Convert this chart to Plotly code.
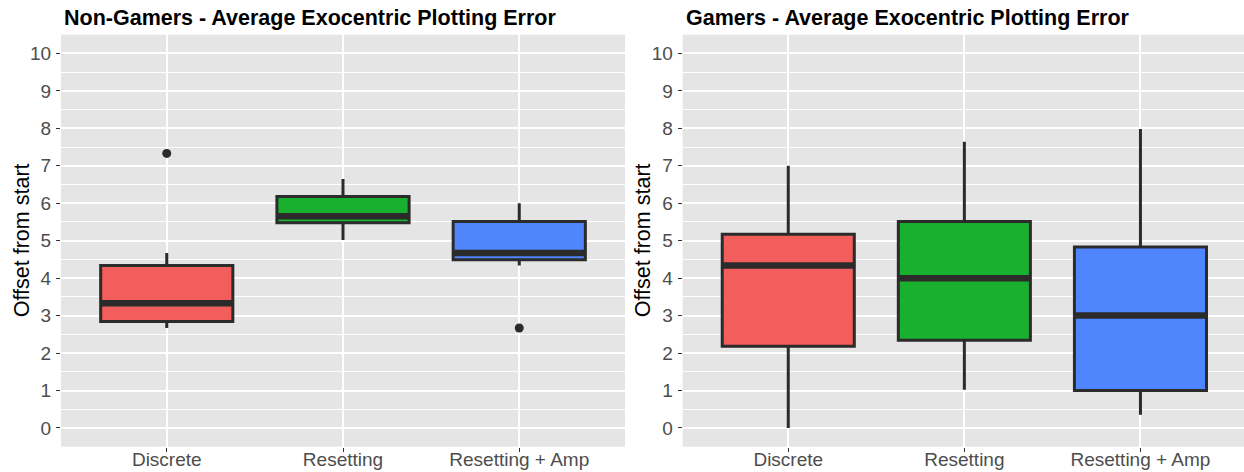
import plotly.graph_objects as go

# Conditions shown on both panels
groups = ["Discrete", "Resetting", "Resetting + Amp"]
fills = ["#F25E5B", "#1AB02F", "#4F86FE"]

# Non-Gamers: five-number summaries per condition
ng_lower = [2.67, 5.02, 4.34]
ng_q1 = [2.84, 5.48, 4.49]
ng_median = [3.33, 5.65, 4.67]
ng_q3 = [4.34, 6.18, 5.51]
ng_upper = [4.67, 6.65, 6.00]
ng_outliers = [[7.33], [], [2.67]]

# Gamers: five-number summaries per condition
g_lower = [0.00, 1.02, 0.35]
g_q1 = [2.18, 2.34, 1.00]
g_median = [4.34, 4.00, 3.00]
g_q3 = [5.17, 5.51, 4.83]
g_upper = [7.00, 7.64, 7.98]
g_outliers = [[], [], []]

y_ticks = list(range(0, 11))

titles = ["Non-Gamers - Average Exocentric Plotting Error",
          "Gamers - Average Exocentric Plotting Error"]
y_title = "Offset from start"

W, H = 1244, 472
INK = "#2B2B2B"
BOX_W = 0.75
FONT = "Liberation Sans, Arial"

fig = go.Figure()

panels = [
    dict(lower=ng_lower, q1=ng_q1, med=ng_median, q3=ng_q3, upper=ng_upper, out=ng_outliers),
    dict(lower=g_lower, q1=g_q1, med=g_median, q3=g_q3, upper=g_upper, out=g_outliers),
]

for p, d in enumerate(panels):
    xa = "x" if p == 0 else "x2"
    ya = "y" if p == 0 else "y2"
    for i, name in enumerate(groups):
        pos = i + 1
        fig.add_trace(go.Box(
            x=[pos], q1=[d["q1"][i]], median=[d["med"][i]], q3=[d["q3"][i]],
            lowerfence=[d["lower"][i]], upperfence=[d["upper"][i]],
            width=BOX_W, whiskerwidth=0, boxpoints=False,
            fillcolor=fills[i], line=dict(color=INK, width=3),
            xaxis=xa, yaxis=ya, showlegend=False, hoverinfo="skip",
        ))
        # heavier median bar across the box
        fig.add_trace(go.Scatter(
            x=[pos - BOX_W / 2, pos + BOX_W / 2], y=[d["med"][i], d["med"][i]],
            mode="lines", line=dict(color=INK, width=6.5),
            xaxis=xa, yaxis=ya, showlegend=False, hoverinfo="skip",
        ))
        if d["out"][i]:
            fig.add_trace(go.Scatter(
                x=[pos] * len(d["out"][i]), y=d["out"][i], mode="markers",
                marker=dict(color=INK, size=9),
                xaxis=xa, yaxis=ya, showlegend=False, hoverinfo="skip",
            ))

panel_bg = "#E5E5E5"
x_common = dict(
    tickmode="array", tickvals=[1, 2, 3], ticktext=groups,
    showgrid=True, gridcolor="white", gridwidth=1.6,
    zeroline=False, showline=False, automargin=False,
    ticks="outside", ticklen=4, tickwidth=1, tickcolor="#333333",
    ticklabelstandoff=-9,
    tickfont=dict(family=FONT, size=19, color="#4D4D4D"),
)
y_common = dict(
    range=[-0.5, 10.5], tickmode="array", tickvals=y_ticks,
    showgrid=True, gridcolor="white", gridwidth=1.6,
    minor=dict(dtick=0.5, showgrid=True, gridcolor="white", gridwidth=0.7),
    zeroline=False, showline=False, automargin=False,
    ticks="outside", ticklen=4, tickwidth=1, tickcolor="#333333",
    ticklabelstandoff=1,
    tickfont=dict(family=FONT, size=19, color="#4D4D4D"),
)

y_dom = [1 - 446.7 / H, 1 - 34.7 / H]
fig.update_layout(
    width=W, height=H, margin=dict(l=0, r=0, t=0, b=0),
    paper_bgcolor="white", plot_bgcolor=panel_bg,
    xaxis=dict(domain=[61 / W, 625 / W], range=[0.4, 3.6], anchor="y", **x_common),
    xaxis2=dict(domain=[682.6 / W, 1.0], range=[0.4, 3.588], anchor="y2", **x_common),
    yaxis=dict(domain=y_dom, anchor="x", **y_common),
    yaxis2=dict(domain=y_dom, anchor="x2", **y_common),
)

title_x = [61.5 / W, 683.5 / W]
ytitle_x = [21.5 / W, 642.5 / W]
for p in range(2):
    fig.add_annotation(
        text="<b>" + titles[p] + "</b>", xref="paper", yref="paper",
        x=title_x[p], y=1 - 18 / H, xanchor="left", yanchor="middle",
        showarrow=False, font=dict(family=FONT, size=21.5, color="black"),
    )
    fig.add_annotation(
        text=y_title, xref="paper", yref="paper", textangle=-90,
        x=ytitle_x[p], y=(y_dom[0] + y_dom[1]) / 2, xanchor="center", yanchor="middle",
        showarrow=False, font=dict(family=FONT, size=21.5, color="black"),
    )

fig.write_html("out.html")
